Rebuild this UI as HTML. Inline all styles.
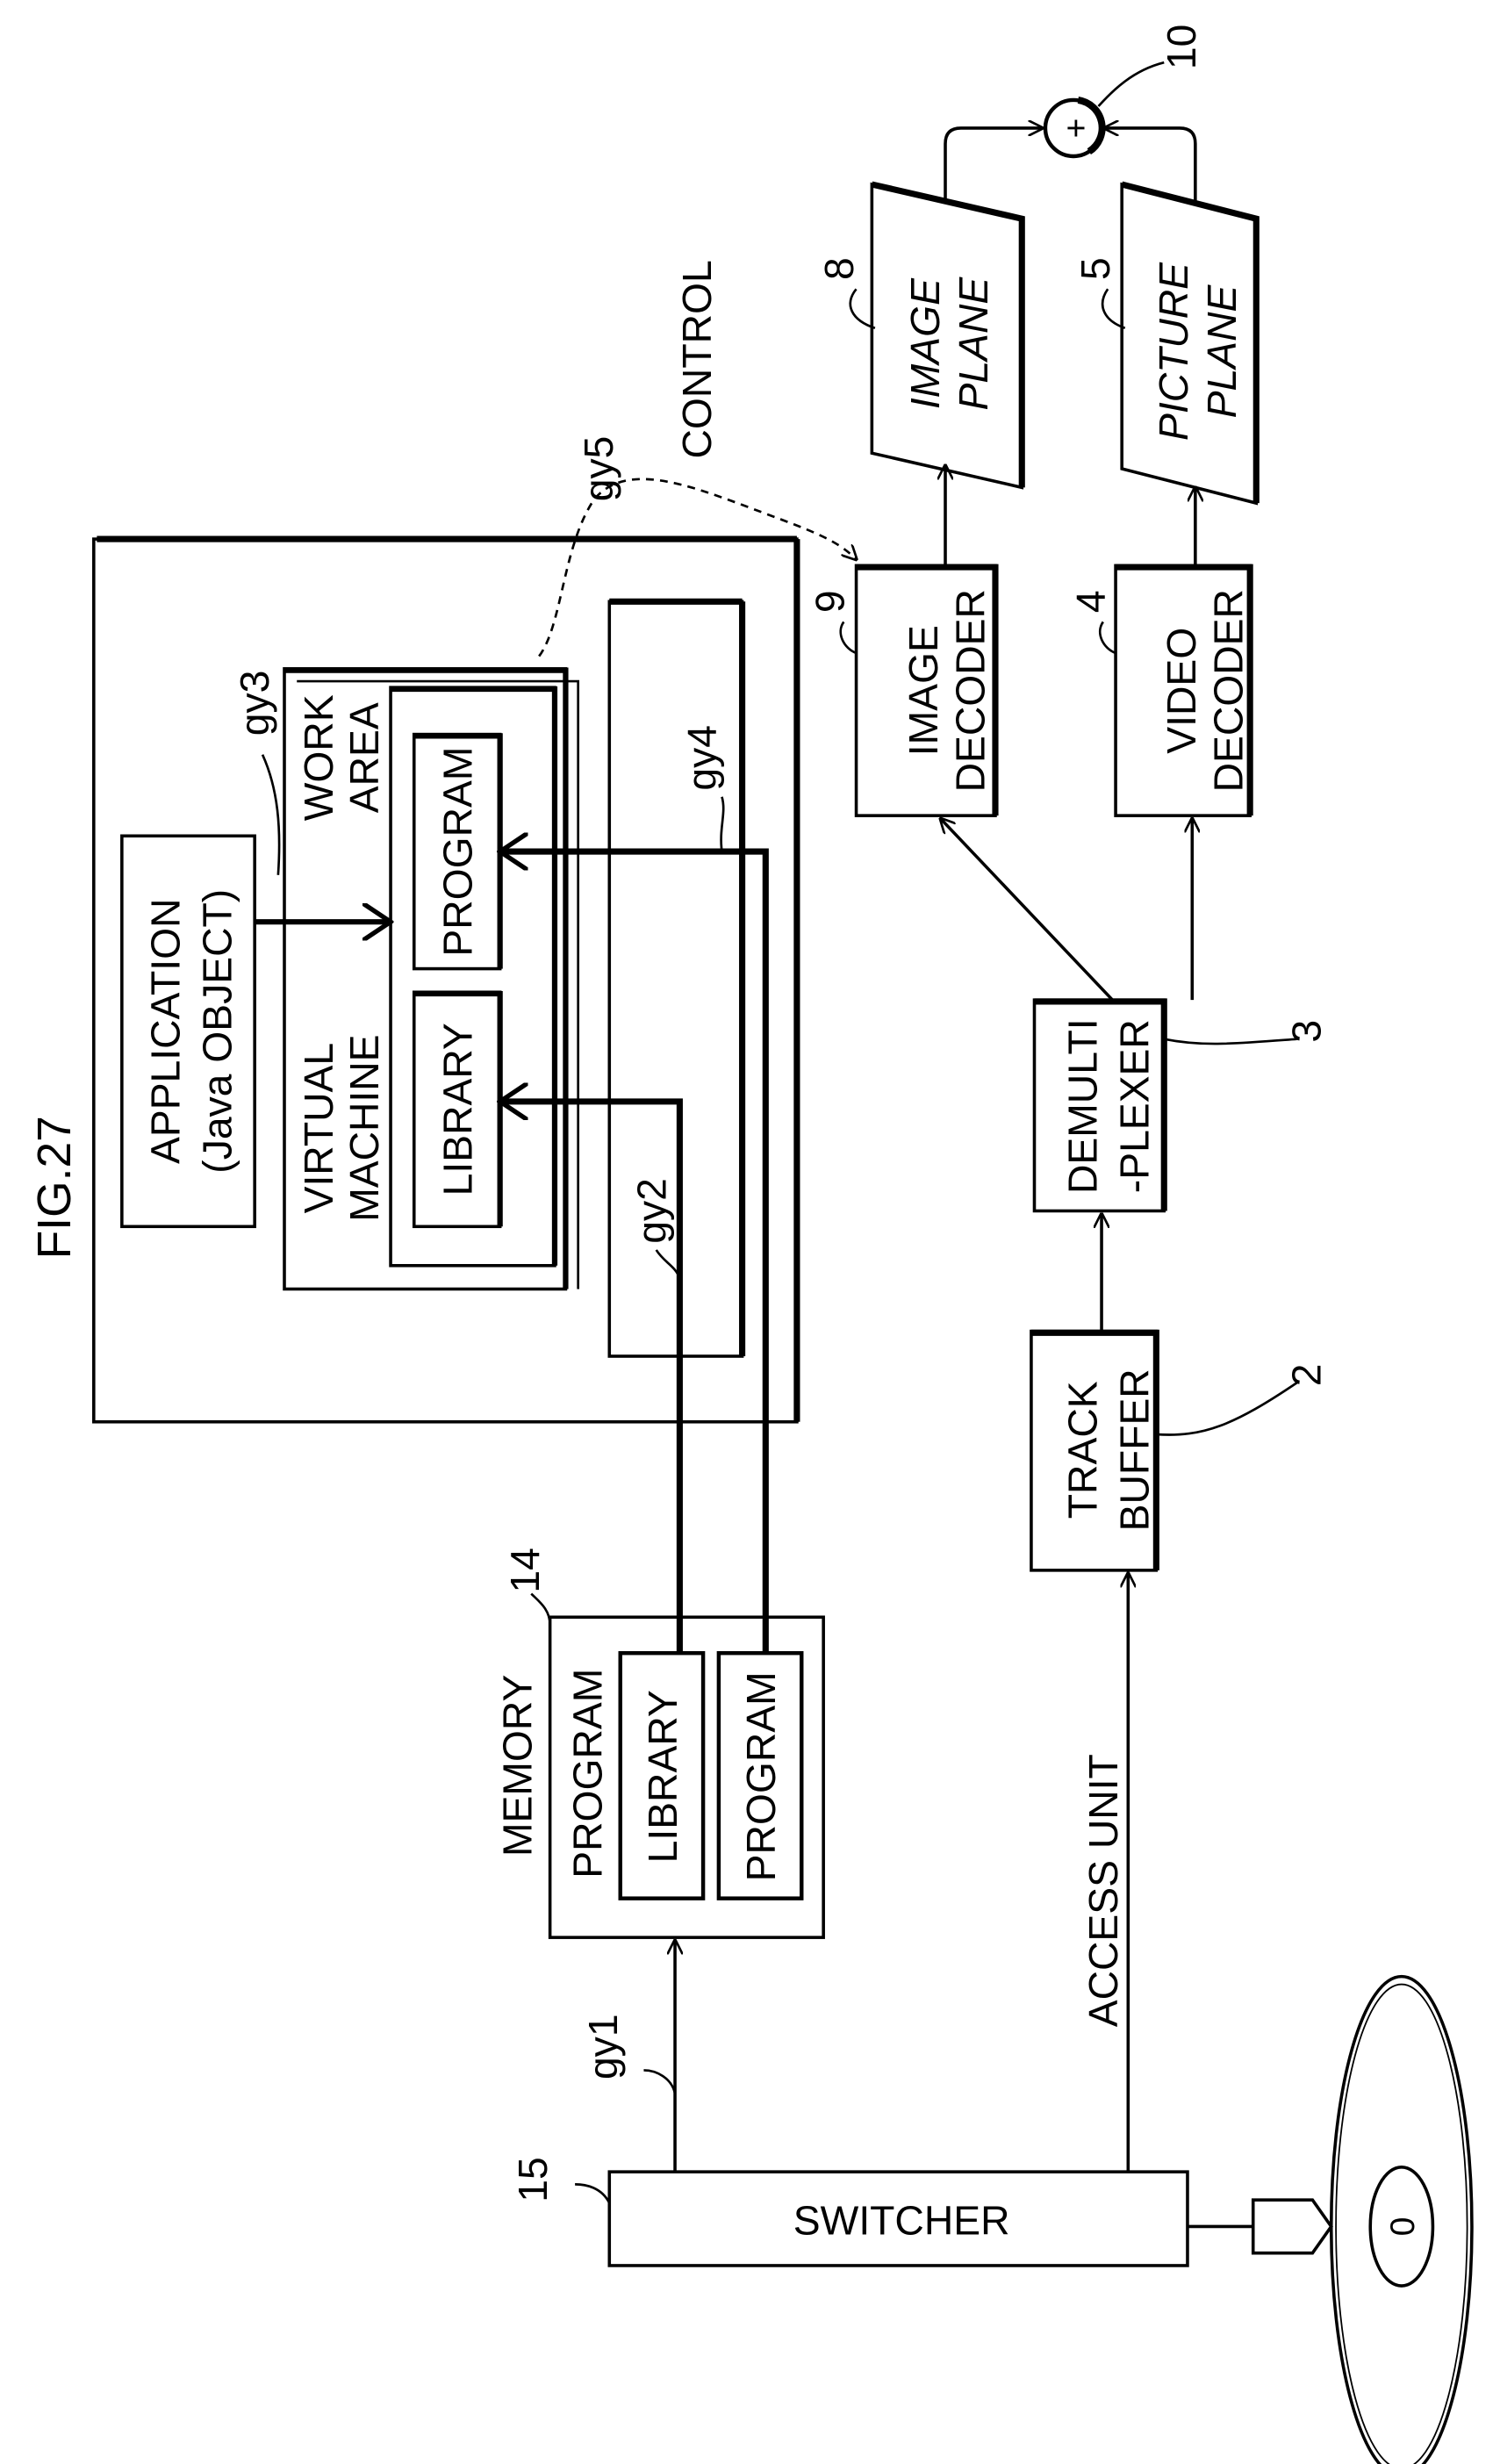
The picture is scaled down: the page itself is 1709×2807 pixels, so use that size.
<!DOCTYPE html>
<html><head><meta charset="utf-8"><style>
html,body{margin:0;padding:0;background:#fff;}
svg{display:block;}
text{font-family:"Liberation Sans",sans-serif;fill:#000;}
</style></head><body>
<svg width="1709" height="2807" viewBox="0 0 960 1577" preserveAspectRatio="none" xmlns="http://www.w3.org/2000/svg">
<defs>
<marker id="a" markerWidth="10" markerHeight="10" refX="9" refY="5" orient="auto" markerUnits="userSpaceOnUse"><path d="M0,0 L10,5 L0,10" fill="none" stroke="#000" stroke-width="1.5"/></marker>
<marker id="b" markerWidth="20" markerHeight="24" refX="18" refY="12" orient="auto" markerUnits="userSpaceOnUse"><path d="M0,0 L18,12 L0,24" fill="none" stroke="#000" stroke-width="3"/></marker>
</defs>
<g fill="none" stroke="#000" stroke-width="2">
<rect x="60" y="345" width="450" height="565"/>
<line x1="62" y1="345" x2="510" y2="345" stroke-width="4"/>
<line x1="510" y1="345" x2="510" y2="910" stroke-width="4"/>
<rect x="78" y="535" width="85" height="250"/>
<rect x="182" y="428" width="180" height="397"/>
<polyline points="182,429 362,429 362,825" stroke-width="3.5"/>
<polyline points="190,436 370,436 370,825" stroke-width="1.5"/>
<rect x="250" y="440" width="105" height="370"/>
<polyline points="250,441 355,441 355,810" stroke-width="3.5"/>
<rect x="265" y="470" width="55" height="150"/>
<polyline points="265,471 320,471 320,620" stroke-width="3.5"/>
<rect x="265" y="635" width="55" height="150"/>
<polyline points="265,636 320,636 320,785" stroke-width="3.5"/>
<rect x="390" y="385" width="85" height="483"/>
<line x1="390" y1="385" x2="475" y2="385" stroke-width="4"/>
<line x1="475" y1="385" x2="475" y2="868" stroke-width="4"/>
<line x1="163" y1="590" x2="250" y2="590" stroke-width="3.5" marker-end="url(#b)"/>
<polyline points="435,1058 435,705 320,705" stroke-width="4" marker-end="url(#b)"/>
<polyline points="490,1058 490,545 320,545" stroke-width="4" marker-end="url(#b)"/>
<path d="M345,420 C360,400 360,350 380,320 C400,295 440,310 480,325 C520,340 535,345 548,358" stroke-dasharray="5,4" stroke-width="1.5" marker-end="url(#a)"/>
<path d="M168,483 C178,505 180,530 178,560" stroke-width="1.5"/>
<path d="M540,398 C535,405 540,415 548,418" stroke-width="1.5"/>
<path d="M706,398 C701,405 706,415 714,418" stroke-width="1.5"/>
<path d="M548,185 C540,195 545,205 560,210" stroke-width="1.5"/>
<path d="M709,185 C702,195 706,205 720,210" stroke-width="1.5"/>
<path d="M745,665 C770,670 790,668 830,665" stroke-width="1.5"/>
<path d="M740,918 C770,920 790,912 830,885" stroke-width="1.5"/>
<path d="M352,1040 C352,1030 345,1025 340,1020" stroke-width="1.5"/>
<path d="M390,1410 C385,1400 375,1398 368,1398" stroke-width="1.5"/>
<path d="M703,68 C712,58 725,45 745,40" stroke-width="1.5"/>
<path d="M420,800 C425,808 432,810 435,818" stroke-width="1.5"/>
<path d="M462,545 C460,530 465,520 462,510" stroke-width="1.5"/>
<path d="M432,1340 C430,1330 420,1325 412,1325" stroke-width="1.5"/>
<rect x="548" y="362" width="89" height="160"/>
<polyline points="548,363 637,363 637,522" stroke-width="4"/>
<rect x="714" y="362" width="86" height="160"/>
<polyline points="714,363 800,363 800,522" stroke-width="4"/>
<polygon points="558,118 654,140 654,312 558,290"/>
<polyline points="558,118 654,140 654,312" stroke-width="4"/>
<polygon points="718,118 804,140 804,322 718,300"/>
<polyline points="718,118 804,140 804,322" stroke-width="4"/>
<line x1="605" y1="362" x2="605" y2="298" marker-end="url(#a)"/>
<line x1="765" y1="362" x2="765" y2="312" marker-end="url(#a)"/>
<circle cx="687" cy="82" r="18" stroke-width="2.5"/>
<path d="M690,64 A18,18 0 0 1 697,97" stroke-width="4.5"/>
<path d="M605,129 L605,92 Q605,82 615,82 L667,82" marker-end="url(#a)"/>
<path d="M765,129 L765,92 Q765,82 755,82 L707,82" marker-end="url(#a)"/>
<rect x="662" y="640" width="83" height="135"/>
<polyline points="662,641 745,641 745,775" stroke-width="4"/>
<rect x="660" y="852" width="80" height="153"/>
<polyline points="660,853 740,853 740,1005" stroke-width="4"/>
<line x1="712" y1="640" x2="602" y2="524" marker-end="url(#a)"/>
<line x1="763" y1="640" x2="763" y2="524" marker-end="url(#a)"/>
<line x1="705" y1="852" x2="705" y2="777" marker-end="url(#a)"/>
<line x1="722" y1="1390" x2="722" y2="1007" marker-end="url(#a)"/>
<rect x="352" y="1035" width="175" height="205"/>
<rect x="397" y="1058" width="53" height="157" stroke-width="2.5"/>
<rect x="460" y="1058" width="53" height="157" stroke-width="2.5"/>
<line x1="432" y1="1390" x2="432" y2="1242" marker-end="url(#a)"/>
<rect x="390" y="1390" width="370" height="60"/>
<line x1="760" y1="1425" x2="802" y2="1425"/>
<polygon points="802,1408 840,1408 852,1425 840,1442 802,1442"/>
<ellipse cx="897" cy="1425" rx="45" ry="160"/>
<ellipse cx="897" cy="1425" rx="42" ry="155" stroke-width="1"/>
<ellipse cx="897" cy="1425" rx="20" ry="38"/>
</g>
<g font-size="26">
<text transform="translate(45,760) rotate(-90)" text-anchor="middle" font-size="30">FIG.27</text>
<text transform="translate(115,660) rotate(-90)" text-anchor="middle">APPLICATION</text>
<text transform="translate(148,660) rotate(-90)" text-anchor="middle">(Java OBJECT)</text>
<text transform="translate(213,722) rotate(-90)" text-anchor="middle">VIRTUAL</text>
<text transform="translate(242,722) rotate(-90)" text-anchor="middle">MACHINE</text>
<text transform="translate(213,485) rotate(-90)" text-anchor="middle">WORK</text>
<text transform="translate(242,485) rotate(-90)" text-anchor="middle">AREA</text>
<text transform="translate(302,710) rotate(-90)" text-anchor="middle">LIBRARY</text>
<text transform="translate(302,545) rotate(-90)" text-anchor="middle">PROGRAM</text>
<text transform="translate(172,450) rotate(-90)" text-anchor="middle">gy3</text>
<text transform="translate(426,775) rotate(-90)" text-anchor="middle">gy2</text>
<text transform="translate(458,485) rotate(-90)" text-anchor="middle">gy4</text>
<text transform="translate(392,300) rotate(-90)" text-anchor="middle">gy5</text>
<text transform="translate(455,230) rotate(-90)" text-anchor="middle">CONTROL</text>
<text transform="translate(600,442) rotate(-90)" text-anchor="middle">IMAGE</text>
<text transform="translate(630,442) rotate(-90)" text-anchor="middle">DECODER</text>
<text transform="translate(765,442) rotate(-90)" text-anchor="middle">VIDEO</text>
<text transform="translate(795,442) rotate(-90)" text-anchor="middle">DECODER</text>
<text transform="translate(601,220) rotate(-90)" text-anchor="middle" font-style="italic">IMAGE</text>
<text transform="translate(632,220) rotate(-90)" text-anchor="middle" font-style="italic">PLANE</text>
<text transform="translate(760,225) rotate(-90)" text-anchor="middle" font-style="italic">PICTURE</text>
<text transform="translate(791,225) rotate(-90)" text-anchor="middle" font-style="italic">PLANE</text>
<text transform="translate(702,708) rotate(-90)" text-anchor="middle">DEMULTI</text>
<text transform="translate(735,708) rotate(-90)" text-anchor="middle">-PLEXER</text>
<text transform="translate(702,928) rotate(-90)" text-anchor="middle">TRACK</text>
<text transform="translate(735,928) rotate(-90)" text-anchor="middle">BUFFER</text>
<text transform="translate(715,1210) rotate(-90)" text-anchor="middle">ACCESS UNIT</text>
<text transform="translate(340,1130) rotate(-90)" text-anchor="middle">MEMORY</text>
<text transform="translate(385,1135) rotate(-90)" text-anchor="middle">PROGRAM</text>
<text transform="translate(433,1137) rotate(-90)" text-anchor="middle">LIBRARY</text>
<text transform="translate(496,1137) rotate(-90)" text-anchor="middle">PROGRAM</text>
<text transform="translate(395,1310) rotate(-90)" text-anchor="middle">gy1</text>
<text x="577" y="1430" text-anchor="middle">SWITCHER</text>
<text transform="translate(765,30) rotate(-90)" text-anchor="middle">10</text>
<text transform="translate(546,172) rotate(-90)" text-anchor="middle">8</text>
<text transform="translate(710,172) rotate(-90)" text-anchor="middle">5</text>
<text transform="translate(540,385) rotate(-90)" text-anchor="middle">9</text>
<text transform="translate(707,385) rotate(-90)" text-anchor="middle">4</text>
<text transform="translate(845,660) rotate(-90)" text-anchor="middle">3</text>
<text transform="translate(845,880) rotate(-90)" text-anchor="middle">2</text>
<text transform="translate(345,1005) rotate(-90)" text-anchor="middle">14</text>
<text transform="translate(350,1395) rotate(-90)" text-anchor="middle">15</text>
<text transform="translate(696,82) rotate(-90)" text-anchor="middle" font-size="22">+</text>
<text transform="translate(905,1425) rotate(-90)" text-anchor="middle" font-size="22">0</text>
</g>
</svg>
</body></html>
